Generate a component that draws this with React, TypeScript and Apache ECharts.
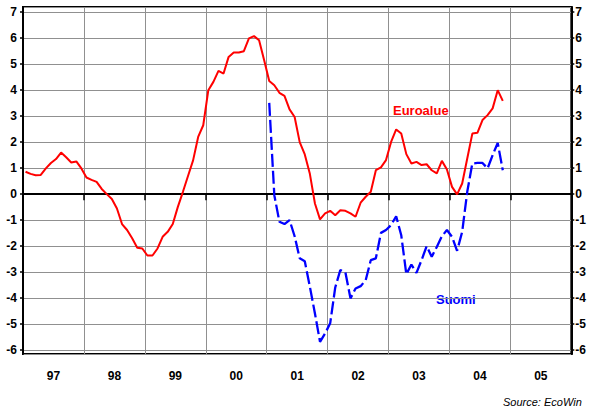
import React, { useEffect, useRef } from "react";
import * as echarts from "echarts";

const yearLabels = ["97", "98", "99", "00", "01", "02", "03", "04", "05"];

// Monthly values, Jan 1997 onwards
const euroalue = [
  0.86, 0.78, 0.73, 0.74, 0.99, 1.2, 1.35, 1.6, 1.42, 1.22, 1.26, 0.99,
  0.64, 0.55, 0.47, 0.2, 0.0, -0.19, -0.55, -1.15, -1.38, -1.7, -2.06, -2.09,
  -2.36, -2.36, -2.09, -1.64, -1.45, -1.15, -0.49, 0.09, 0.7, 1.3, 2.2, 2.65,
  4.0, 4.32, 4.74, 4.64, 5.28, 5.45, 5.45, 5.5, 5.99, 6.08, 5.92, 5.15,
  4.35, 4.19, 3.9, 3.78, 3.26, 2.97, 2.0, 1.53, 0.78, -0.36, -0.97, -0.74,
  -0.64, -0.81, -0.62, -0.64, -0.74, -0.87, -0.33, -0.1, 0.09, 0.92, 1.03, 1.31,
  2.01, 2.49, 2.33, 1.54, 1.18, 1.24, 1.12, 1.15, 0.92, 0.8, 1.28, 0.95,
  0.28, -0.01, 0.41, 1.37, 2.33, 2.36, 2.85, 3.04, 3.3, 4.0, 3.59,
];

// Monthly values, Jan 2001 onwards
const suomiStart = 48;
const suomi = [
  3.51, -0.04, -1.06, -1.15, -1.0, -1.62, -2.47, -2.58, -3.56, -4.59, -5.68, -5.36,
  -4.97, -3.59, -2.92, -3.01, -4.01, -3.63, -3.54, -3.31, -2.54, -2.47, -1.49, -1.38,
  -1.19, -0.85, -1.58, -3.08, -2.71, -3.03, -2.54, -2.0, -2.41, -2.03, -1.62, -1.38,
  -1.64, -2.18, -1.45, 0.09, 1.18, 1.2, 1.2, 0.99, 1.5, 1.97, 0.92,
];

const FONT = "Liberation Sans, Arial, sans-serif";

export default function App() {
  const ref = useRef<HTMLDivElement>(null);
  useEffect(() => {
    document.body.style.margin = "0";
    const chart = echarts.init(ref.current!, null, { renderer: "svg" });
    const euroData = euroalue.map((v, i) => [i + 0.5, v]);
    const suomiData = suomi.map((v, i) => [suomiStart + i + 0.5, v]);
    const yAxisBase = (pos: "left" | "right") => ({
      type: "value",
      position: pos,
      min: -6.15,
      max: 7.2,
      splitNumber: 13,
      axisLine: { show: true, lineStyle: { color: "#000", width: 2 } },
      axisTick: { show: true, length: 3, lineStyle: { color: "#000", width: 1.5 } },
      axisLabel: {
        show: true,
        showMinLabel: false,
        showMaxLabel: false,
        margin: pos === "left" ? 6 : 4,
        color: "#000",
        fontFamily: FONT,
        fontWeight: "bold",
        fontSize: 12,
      },
      splitLine: pos === "left" ? { show: true, lineStyle: { color: "#909090", width: 1 } } : { show: false },
    });
    chart.setOption({
      animation: false,
      backgroundColor: "#fff",
      grid: {
        left: 23,
        right: 16,
        top: 7,
        bottom: 55,
        show: true,
        borderColor: "#000",
        borderWidth: 2,
        containLabel: false,
      },
      xAxis: [
        { type: "value", min: 0, max: 108, show: false },
        {
          type: "category",
          data: yearLabels,
          boundaryGap: true,
          position: "bottom",
          axisLine: { show: true, lineStyle: { color: "#000", width: 2 } },
          axisTick: { show: true, length: 6, lineStyle: { color: "#000", width: 1.5 } },
          axisLabel: {
            margin: 16,
            color: "#000",
            fontFamily: FONT,
            fontWeight: "bold",
            fontSize: 12,
          },
          splitLine: { show: true, lineStyle: { color: "#909090", width: 1 } },
        },
      ],
      yAxis: [yAxisBase("left"), yAxisBase("right")],
      series: [
        {
          type: "line",
          name: "Euroalue",
          xAxisIndex: 0,
          yAxisIndex: 0,
          data: euroData,
          showSymbol: false,
          symbol: "none",
          lineStyle: { color: "#ff0000", width: 2 },
          z: 3,
          markLine: {
            silent: true,
            symbol: "none",
            label: { show: false },
            lineStyle: { color: "#000", width: 2, type: "solid" },
            data: [{ yAxis: 0 }],
            z: 2,
          },
        },
        {
          type: "line",
          name: "Suomi",
          xAxisIndex: 0,
          yAxisIndex: 0,
          data: suomiData,
          showSymbol: false,
          symbol: "none",
          lineStyle: { color: "#0000ff", width: 2.3, type: [13, 4] },
          z: 4,
        },
      ],
      graphic: [
        {
          type: "text",
          left: 393,
          top: 104,
          style: { text: "Euroalue", fill: "#ff0000", font: `bold 13px ${FONT}` },
        },
        {
          type: "text",
          left: 436,
          top: 293,
          style: { text: "Suomi", fill: "#0000ff", font: `bold 13px ${FONT}` },
        },
        {
          type: "text",
          left: 503,
          top: 396,
          style: { text: "Source: EcoWin", fill: "#000", font: `italic 11px ${FONT}` },
        },
      ],
    });
    return () => chart.dispose();
  }, []);
  return <div ref={ref} style={{ width: 589, height: 409 }} />;
}
